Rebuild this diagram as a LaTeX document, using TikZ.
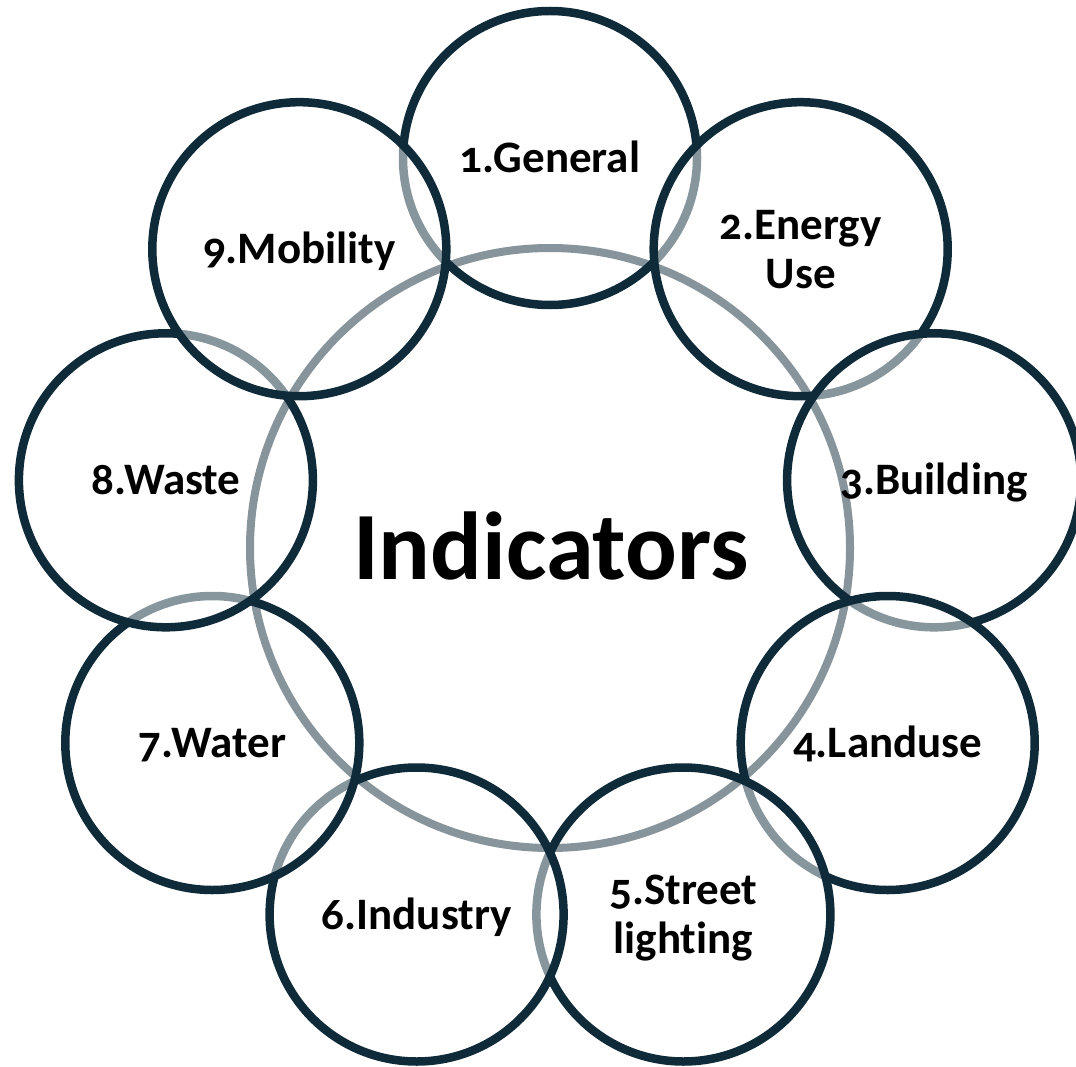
\documentclass[tikz,border=0pt]{standalone}
\usepackage{fontspec}
\setmainfont{Carlito}[Numbers=OldStyle, Ligatures=NoCommon]
\definecolor{dark}{HTML}{0F2B3A}
\begin{document}
\begin{tikzpicture}[x=1pt,y=-1pt,
  ring/.style={circle, draw=dark, line width=8.5pt, fill=white, fill opacity=0.5,
    minimum size=294pt, inner sep=0pt},
  hub/.style={circle, draw=dark, draw opacity=0.5, line width=8pt,
    minimum size=600pt, inner sep=0pt},
  lbl/.style={font=\fontsize{45}{49}\selectfont\bfseries, align=center, text=black, inner sep=0pt},
  big/.style={font=\fontsize{96.5}{100}\selectfont\bfseries, text=black, inner sep=0pt}]
\useasboundingbox (0,0) rectangle (1076,1067);
\coordinate (O) at (550,548);
% outer circles, in stacking order
\node[ring] (c1) at (550,158) {};
\node[ring] (c2) at (800.7,249.2) {};
\node[ring] (c3) at (934.1,480.3) {};
\node[ring] (c4) at (887.7,743) {};
\node[ring] (c5) at (683.4,914.5) {};
\node[ring] (c6) at (416.6,914.5) {};
\node[ring] (c7) at (212.3,743) {};
\node[ring] (c8) at (165.9,480.3) {};
\node[ring] (c9) at (299.3,249.2) {};
% central circle
\node[hub] (core) at (O) {};
% labels
\node[big, anchor=base] (tc) at (551,579) {Indicators};
\node[lbl, anchor=base] (t1) at (550,172.5) {1.General};
\node[lbl, anchor=center] (t2) at (800.7,250) {2.Energy\\Use};
\node[lbl, anchor=base] (t3) at (934.1,494.8) {3.Building};
\node[lbl, anchor=base] (t4) at (887.7,757.5) {4.Landuse};
\node[lbl, anchor=center] (t5) at (683.4,918.5) {5.Street\\lighting};
\node[lbl, anchor=base] (t6) at (416.6,929) {6.Industry};
\node[lbl, anchor=base] (t7) at (212.3,757.5) {7.Water};
\node[lbl, anchor=base] (t8) at (165.9,494.8) {8.Waste};
\node[lbl, anchor=base] (t9) at (299.3,263.7) {9.Mobility};
\end{tikzpicture}
\end{document}
